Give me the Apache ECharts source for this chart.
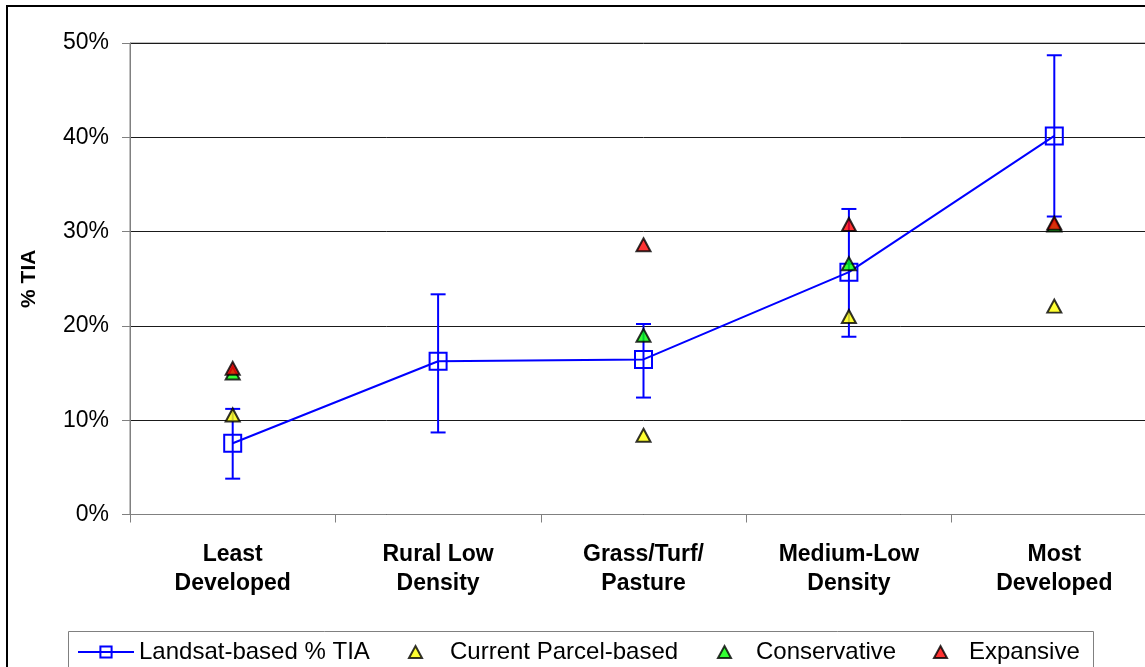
<!DOCTYPE html>
<html>
<head>
<meta charset="utf-8">
<script src="https://cdn.jsdelivr.net/npm/echarts@6.0.0/dist/echarts.min.js"></script>
<style>
  html, body { margin: 0; padding: 0; background: #fff; overflow: hidden; }
  #chart { width: 1180px; height: 667px; }
</style>
</head>
<body>
<div id="chart"></div>
<script>
// categories and values (percent)
var categories = ['Least\nDeveloped', 'Rural Low\nDensity', 'Grass/Turf/\nPasture', 'Medium-Low\nDensity', 'Most\nDeveloped'];
var landsat = [7.56, 16.25, 16.45, 25.7, 40.15];
var errLow = [3.8, 8.7, 12.4, 18.85, 31.6];
var errHigh = [11.2, 23.35, 20.2, 32.4, 48.7];
var currentParcel = [10.55, null, 8.4, 21.0, 22.1];
var conservative = [15.0, null, 19.0, 26.6, 30.7];
var expansive = [15.5, null, 28.6, 30.75, 30.9];
var yTicks = [0, 10, 20, 30, 40, 50];

var FONT = '"Liberation Sans", Arial, sans-serif';
var BLUE = '#0000ff';

var errData = [];
for (var i = 0; i < categories.length; i++) {
    errData.push([i, errLow[i], errHigh[i]]);
}

function triSeries(name, data, color) {
    return {
        name: name,
        type: 'scatter',
        data: data,
        symbol: 'triangle',
        symbolSize: [14, 13],
        itemStyle: { color: color, borderColor: '#000', borderWidth: 2 },
        z: 5
    };
}

function legendAt(name, left, iconW, iconH, padLeft) {
    return {
        data: [name],
        left: left,
        top: 635,
        itemWidth: iconW,
        itemHeight: iconH,
        selectedMode: false,
        textStyle: { fontFamily: FONT, fontSize: 24, color: '#000', padding: [0, 0, 0, padLeft] }
    };
}

var chart = echarts.init(document.getElementById('chart'));
chart.setOption({
    animation: false,
    backgroundColor: '#fff',
    graphic: [
        { type: 'rect', shape: { x: 7, y: 6, width: 1300, height: 800 }, style: { fill: 'none', stroke: '#000', lineWidth: 2 }, z: 0 },
        { type: 'rect', shape: { x: 68.5, y: 631.5, width: 1025, height: 60 }, style: { fill: '#fff', stroke: '#808080', lineWidth: 1 }, z: 0 }
    ],
    grid: {
        left: 130, top: 43, width: 1027, height: 471.5,
        show: true, borderColor: '#808080', borderWidth: 1, backgroundColor: 'transparent'
    },
    legend: [
        legendAt('Landsat-based % TIA', 72, 56, 14, 0),
        legendAt('Current Parcel-based', 403, 13, 12, 23),
        legendAt('Conservative', 712, 13, 12, 20),
        legendAt('Expansive', 928, 13, 12, 17)
    ],
    xAxis: {
        type: 'category',
        data: categories,
        boundaryGap: true,
        axisLine: { lineStyle: { color: '#808080', width: 1 } },
        axisTick: { show: true, length: 8, lineStyle: { color: '#808080' } },
        axisLabel: {
            interval: 0, margin: 26,
            fontFamily: FONT, fontSize: 23, fontWeight: 'bold', color: '#000', lineHeight: 29
        },
        splitLine: { show: false }
    },
    yAxis: {
        type: 'value',
        min: yTicks[0], max: yTicks[yTicks.length - 1], interval: 10,
        name: '% TIA',
        nameLocation: 'middle',
        nameGap: 90,
        nameRotate: 90,
        nameTextStyle: { fontFamily: FONT, fontSize: 21, fontWeight: 'bold', color: '#000' },
        axisLine: { show: true, lineStyle: { color: '#808080', width: 1 } },
        axisTick: { show: true, length: 8, lineStyle: { color: '#808080' } },
        axisLabel: { formatter: '{value}%', margin: 21, fontFamily: FONT, fontSize: 23, color: '#000' },
        splitLine: { show: true, lineStyle: { color: '#1a1a1a', width: 1 } }
    },
    series: [
        {
            name: 'errbars',
            type: 'custom',
            data: errData,
            encode: { x: 0, y: [1, 2] },
            z: 2,
            renderItem: function (params, api) {
                var lo = api.coord([api.value(0), api.value(1)]);
                var hi = api.coord([api.value(0), api.value(2)]);
                var w = 7.5;
                var st = { stroke: BLUE, lineWidth: 2 };
                return {
                    type: 'group',
                    children: [
                        { type: 'line', shape: { x1: lo[0], y1: lo[1], x2: hi[0], y2: hi[1] }, style: st },
                        { type: 'line', shape: { x1: lo[0] - w, y1: lo[1], x2: lo[0] + w, y2: lo[1] }, style: st },
                        { type: 'line', shape: { x1: hi[0] - w, y1: hi[1], x2: hi[0] + w, y2: hi[1] }, style: st }
                    ]
                };
            }
        },
        {
            name: 'Landsat-based % TIA',
            type: 'line',
            data: landsat,
            symbol: 'rect',
            symbolSize: 17,
            lineStyle: { color: BLUE, width: 2 },
            itemStyle: { color: 'rgba(0,0,0,0)', borderColor: BLUE, borderWidth: 2 },
            z: 3
        },
        triSeries('Current Parcel-based', currentParcel, '#ffff00'),
        triSeries('Conservative', conservative, '#00ff00'),
        triSeries('Expansive', expansive, '#ff0000')
    ]
});
</script>
</body>
</html>
